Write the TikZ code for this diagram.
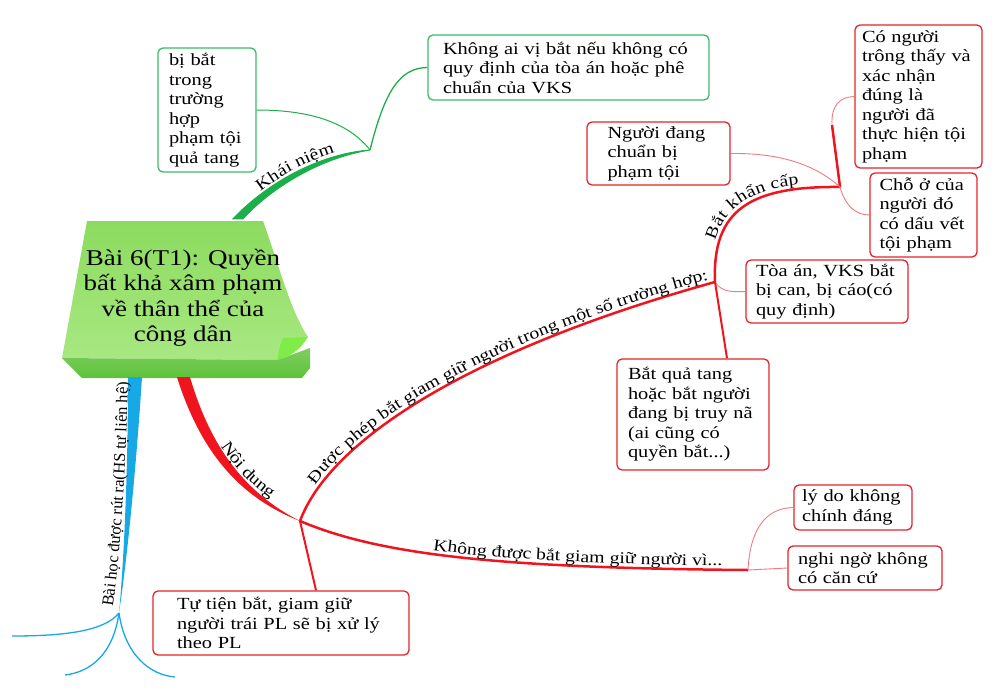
\documentclass[tikz,border=0pt]{standalone}
\usepackage{fontspec}
\setmainfont[FakeStretch=1.2]{Liberation Serif}
\newfontfamily\plainserif{Liberation Serif}
\usetikzlibrary{decorations.text}

\definecolor{notegreen}{HTML}{8CDB5F}
\definecolor{notelight}{HTML}{A8E882}
\definecolor{notedark}{HTML}{5EC23A}
\definecolor{curlgreen}{HTML}{80EC48}
\definecolor{brgreen}{HTML}{1AAF48}
\definecolor{leafgreen}{HTML}{3DBB68}
\definecolor{brred}{HTML}{F0141E}
\definecolor{leafred}{HTML}{E3242B}
\definecolor{thinred}{HTML}{EE7B80}
\definecolor{brblue}{HTML}{17A8E6}

\newcommand{\boxfont}{\fontsize{17}{19.5}\selectfont}
\newcommand{\titlefont}{\fontsize{22.5}{25.5}\selectfont}
\newcommand{\lblfont}{\fontsize{16.5}{18}\selectfont}
\newcommand{\sidefont}{\plainserif\fontsize{16.5}{18}\selectfont}

\tikzset{root/.style = {inner sep=0pt, align=center, font=\titlefont, minimum width=242pt, minimum height=158pt}}
\tikzset{leaf/.style = {draw, fill=white, rounded corners=5pt, line width=1.3pt, align=left, font=\boxfont, inner ysep=2pt}}
\tikzset{greenleaf/.style = {leaf, draw=leafgreen}}
\tikzset{redleaf/.style = {leaf, draw=leafred}}
\tikzset{limb/.style = {draw=brred, line width=2.5pt}}
\tikzset{twig/.style = {draw=thinred, line width=0.9pt}}
\tikzset{gtwig/.style = {draw=brgreen, line width=1pt}}
\tikzset{btwig/.style = {draw=brblue, line width=1.3pt}}
\tikzset{along/.style 2 args = {postaction={decorate, decoration={text along path, text={|\lblfont|#2}, #1}}}}

\begin{document}
\begin{tikzpicture}[x=1pt, y=-1pt]
  \useasboundingbox (0,0) rectangle (1000,693);

  \shade[top color=notegreen, bottom color=notelight] (87,221) -- (263,221) .. controls (278,262) and (290,310) .. (308,337) -- (277,360) -- (62,358) -- cycle;
  \shade[top color=notedark!80!white, bottom color=notedark] (62,358) -- (277,360) -- (310,348) -- (310,368) -- (302,378) -- (82,378) -- cycle;
  \fill[curlgreen] (283,338) -- (308,337) .. controls (300,350) and (290,357) .. (277,360) .. controls (279,352) and (280,344) .. (283,338) -- cycle;
  \node[root] (root) at (183,298) {Bài 6(T1): Quyền\\bất khả xâm phạm\\về thân thể của\\công dân};

  \node[greenleaf, text width=76pt, inner xsep=11pt, minimum height=124pt] (trap) at (207,110) {bị bắt\\trong\\trường\\hợp\\phạm tội\\quả tang};
  \node[greenleaf, text width=251pt, inner xsep=15pt, minimum height=65pt] (noauth) at (568.5,67.5) {Không ai vị bắt nếu không có\\quy định của tòa án hoặc phê\\chuẩn của VKS};
  \node[redleaf, text width=102pt, inner xsep=20.5pt, minimum height=63pt] (prep) at (658.5,153.5) {Người đang\\chuẩn bị\\phạm tội};
  \node[redleaf, text width=113pt, inner xsep=7pt, minimum height=143pt] (witness) at (918.5,96.5) {Có người\\trông thấy và\\xác nhận\\đúng là\\người đã\\thực hiện tội\\phạm};
  \node[redleaf, text width=88pt, inner xsep=9.5pt, minimum height=84pt] (trace) at (923.5,215) {Chỗ ở của\\người đó\\có dấu vết\\tội phạm};
  \node[redleaf, text width=142pt, inner xsep=10pt, minimum height=63pt] (court) at (827,291.5) {Tòa án, VKS bắt\\bị can, bị cáo(có\\quy định)};
  \node[redleaf, text width=130pt, inner xsep=11pt, minimum height=111pt] (flagrant) at (693,414.5) {Bắt quả tang\\hoặc bắt người\\đang bị truy nã\\(ai cũng có\\quyền bắt...)};
  \node[redleaf, text width=102pt, inner xsep=8pt, minimum height=45pt] (noreason) at (853,507.5) {lý do không\\chính đáng};
  \node[redleaf, text width=134pt, inner xsep=10pt, minimum height=44pt] (nobasis) at (865,568) {nghi ngờ không\\có căn cứ};
  \node[redleaf, text width=208pt, inner xsep=24pt, minimum height=64pt] (illegal) at (281,623) {Tự tiện bắt, giam giữ\\người trái PL sẽ bị xử lý\\theo PL};

  \coordinate (kn) at (370,150);
  \coordinate (content) at (300,521);
  \coordinate (allow) at (715,282);
  \coordinate (urgent) at (840,187);
  \coordinate (urgtop) at (832,125);
  \coordinate (deny) at (748,570);
  \coordinate (lesson) at (119,613);
  \coordinate (l1) at (12,636);
  \coordinate (l2) at (65,675);
  \coordinate (l3) at (175,677);

  \filldraw[brgreen, line width=1pt] ([xshift=50pt]root.north) .. controls (266,184) and (318,154) .. (kn) .. controls (320,158) and (271,188) .. ([xshift=60pt]root.north) -- cycle;
  \path[along={raise=5pt, text align=center}{Khái niệm}] ([xshift=55pt]root.north) .. controls (268,186) and (319,156) .. (kn);
  \draw[gtwig] (kn) .. controls (345,118) and (300,110) .. (trap.east);
  \draw[gtwig, line width=1.3pt] (kn) .. controls (385,90) and (400,68) .. (noauth.west);

  \fill[brred] ([xshift=-6pt]root.south) .. controls (200,450) and (238,497) .. (content) .. controls (243,492) and (210,445) .. ([xshift=7pt]root.south) -- cycle;
  \path[along={raise=6pt, text align={left, left indent=80pt}}{Nội dung}] (root.south) .. controls (205,448) and (240,495) .. (content);

  \draw[limb, along={raise=4pt, text align={left, left indent=38pt}}{Được phép bắt giam giữ người trong một số trường hợp:}] (content) .. controls (330,440) and (470,350) .. (allow);
  \draw[limb, along={raise=4pt, text align=center}{Bắt khẩn cấp}] (allow) .. controls (712,210) and (750,186) .. (urgent);
  \draw[limb] (urgent) to (urgtop);
  \draw[twig] (urgtop) .. controls (831,105) and (840,97) .. (witness.west);
  \draw[twig] (urgent) .. controls (810,160) and (770,153) .. (prep.east);
  \draw[twig] (urgent) .. controls (845,205) and (855,215) .. (trace.west);
  \draw[twig] (allow) .. controls (722,292) and (730,292) .. (court.west);
  \draw[limb, line width=2pt] (allow) to ([xshift=34pt]flagrant.north);

  \draw[limb, along={raise=4pt, text align={right, right indent=26pt}}{Không được bắt giam giữ người vì...}] (content) .. controls (380,555) and (500,568) .. (deny);
  \draw[twig] (deny) .. controls (750,530) and (765,508) .. (noreason.west);
  \draw[twig] (deny) to (nobasis.west);
  \draw[limb, line width=2pt] (content) to ([xshift=35pt]illegal.north);

  \fill[brblue] ([xshift=-55pt]root.south) .. controls (128,470) and (124,560) .. (lesson) .. controls (127,560) and (136,470) .. ([xshift=-41pt]root.south) -- cycle;
  \path[postaction={decorate, decoration={text along path, text={|\sidefont|Bài học được rút ra(HS tự liên hệ)}, raise=7pt, text align=center}}] (lesson) .. controls (127,560) and (133,470) .. ([xshift=-48pt]root.south);
  \draw[btwig] (lesson) .. controls (105,630) and (70,636) .. (l1);
  \draw[btwig] (lesson) .. controls (113,655) and (90,672) .. (l2);
  \draw[btwig] (lesson) .. controls (125,655) and (150,675) .. (l3);
\end{tikzpicture}
\end{document}
